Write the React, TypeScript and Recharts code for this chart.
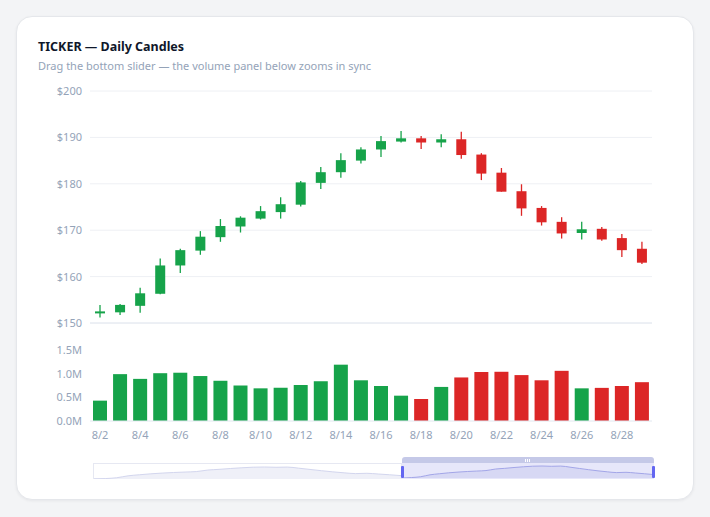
import React from "react";
import {
  ComposedChart,
  Bar,
  XAxis,
  YAxis,
  CartesianGrid,
  Cell,
  AreaChart,
  Area,
} from "recharts";

const days = [
  "8/2", "8/3", "8/4", "8/5", "8/6", "8/7", "8/8", "8/9", "8/10", "8/11",
  "8/12", "8/13", "8/14", "8/15", "8/16", "8/17", "8/18", "8/19", "8/20", "8/21",
  "8/22", "8/23", "8/24", "8/25", "8/26", "8/27", "8/28", "8/29",
];
const opens = [
  152.3, 152.3, 153.7, 156.3, 162.4, 165.6, 168.5, 170.8, 172.5, 173.9,
  175.5, 180.2, 182.5, 185.0, 187.4, 189.1, 189.8, 188.9, 189.6, 186.3,
  182.4, 178.4, 174.8, 171.8, 169.4, 170.3, 168.3, 166.0,
];
const highs = [
  153.9, 154.1, 157.6, 163.9, 166.0, 169.8, 172.4, 173.0, 175.2, 177.1,
  180.6, 183.6, 186.6, 187.9, 190.3, 191.4, 190.3, 190.7, 191.2, 186.6,
  183.4, 179.9, 175.2, 172.8, 171.8, 170.7, 169.2, 167.5,
];
const lows = [
  151.2, 151.7, 152.2, 156.2, 160.8, 164.7, 167.5, 169.5, 172.3, 172.5,
  175.1, 178.9, 181.3, 184.4, 185.8, 188.9, 187.5, 187.9, 185.4, 180.8,
  178.3, 173.1, 171.0, 168.2, 168.0, 167.7, 164.2, 162.7,
];
const closes = [
  152.5, 153.9, 156.4, 162.4, 165.7, 168.6, 170.9, 172.7, 174.1, 175.6,
  180.3, 182.5, 185.1, 187.4, 189.2, 189.8, 188.9, 189.6, 186.2, 182.2,
  178.3, 174.7, 171.7, 169.3, 170.2, 168.0, 165.7, 163.0,
];
const volumes = [
  430000, 990000, 890000, 1010000, 1020000, 950000, 850000, 750000, 690000, 700000,
  760000, 840000, 1190000, 860000, 740000, 535000, 465000, 720000, 920000, 1035000,
  1040000, 970000, 860000, 1060000, 690000, 700000, 740000, 820000,
];

const priceTicks = [150, 160, 170, 180, 190, 200];
const volumeTicks = [0, 500000, 1000000, 1500000];

const GREEN = "#16a34a";
const RED = "#dc2626";
const MUTED = "#94a3b8";
const FONT = "'Noto Sans', 'Open Sans', sans-serif";

const rows = days.map((day, i) => ({
  day,
  open: opens[i],
  high: highs[i],
  low: lows[i],
  close: closes[i],
  range: [lows[i], highs[i]],
  volume: volumes[i],
  up: closes[i] >= opens[i],
}));

// candle drawn inside the bar box that spans low..high
function Candle(props: any) {
  const { x, y, width, height, payload } = props;
  if (x == null || y == null) return null;
  const top = Math.min(y, y + height);
  const h = Math.abs(height);
  const { open, close, high, low, up } = payload;
  const color = up ? GREEN : RED;
  const k = h / (high - low);
  const bodyTop = top + (high - Math.max(open, close)) * k;
  const bodyH = Math.max(Math.abs(open - close) * k, 2);
  const cx = x + width / 2;
  return (
    <g>
      <line x1={cx} x2={cx} y1={top} y2={top + h} stroke={color} strokeWidth={1.3} />
      <rect x={x} y={bodyTop} width={width} height={bodyH} fill={color} />
    </g>
  );
}

const tickStyle = { fill: MUTED, fontSize: 11, fontFamily: FONT };

function MiniArea({ width, stroke, fill }: { width: number; stroke: string; fill: string }) {
  return (
    <AreaChart width={width} height={15} data={rows} margin={{ top: 3, right: 0, bottom: 0, left: 0 }}>
      <YAxis hide domain={["dataMin", "dataMax"]} />
      <XAxis dataKey="day" hide />
      <Area
        type="monotone"
        dataKey="close"
        stroke={stroke}
        strokeWidth={1}
        fill={fill}
        fillOpacity={1}
        isAnimationActive={false}
        dot={false}
      />
    </AreaChart>
  );
}

function SyncSlider() {
  return (
    <>
      <div
        style={{
          position: "absolute",
          left: 93,
          top: 463,
          width: 309,
          height: 16,
          boxSizing: "border-box",
          border: "1px solid #e6e8f2",
          background: "#fff",
        }}
      >
        <MiniArea width={307} stroke="#d3d6ee" fill="#eff0f8" />
      </div>
      <div
        style={{
          position: "absolute",
          left: 402,
          top: 463,
          width: 252,
          height: 16,
          background: "#e7e7fa",
        }}
      >
        <MiniArea width={252} stroke="#a3a6e8" fill="#d7d8f4" />
      </div>
      <div
        style={{
          position: "absolute",
          left: 402,
          top: 457,
          width: 252,
          height: 6,
          background: "#c5c9e8",
          borderRadius: "3px 3px 0 0",
        }}
      >
        <div style={{ position: "absolute", left: 123, top: 2, width: 1, height: 3, background: "#fff" }} />
        <div style={{ position: "absolute", left: 125, top: 2, width: 1, height: 3, background: "#fff" }} />
        <div style={{ position: "absolute", left: 127, top: 2, width: 1, height: 3, background: "#fff" }} />
      </div>
      <div style={{ position: "absolute", left: 401, top: 466, width: 3, height: 12, borderRadius: 1, background: "#6366f1" }} />
      <div style={{ position: "absolute", left: 652, top: 466, width: 3, height: 12, borderRadius: 1, background: "#6366f1" }} />
    </>
  );
}

export default function App() {
  return (
    <div
      style={{
        position: "absolute",
        left: 0,
        top: 0,
        width: 710,
        height: 517,
        background: "#f3f4f6",
        fontFamily: FONT,
      }}
    >
      <div
        style={{
          position: "absolute",
          left: 16,
          top: 16,
          width: 678,
          height: 484,
          boxSizing: "border-box",
          background: "#fff",
          border: "1px solid #e5e7eb",
          borderRadius: 16,
          boxShadow: "0 1px 3px rgba(15,23,42,0.06)",
        }}
      />
      <div
        style={{
          position: "absolute",
          left: 38,
          top: 38,
          fontSize: 12.5,
          fontWeight: 700,
          color: "#0f172a",
          whiteSpace: "nowrap",
        }}
      >
        TICKER — Daily Candles
      </div>
      <div
        style={{
          position: "absolute",
          left: 38,
          top: 58,
          fontSize: 11,
          color: MUTED,
          whiteSpace: "nowrap",
        }}
      >
        Drag the bottom slider — the volume panel below zooms in sync
      </div>

      <div style={{ position: "absolute", left: 30, top: 81 }}>
        <ComposedChart width={640} height={248} data={rows} margin={{ top: 10, right: 18, bottom: 5, left: 0 }}>
          <CartesianGrid vertical={false} stroke="#eef0f4" />
          <XAxis dataKey="day" tick={false} tickLine={false} axisLine={{ stroke: "#e2e8f0" }} height={1} />
          <YAxis
            width={60}
            domain={[150, 200]}
            ticks={priceTicks}
            tickFormatter={(v: number) => `$${v}`}
            tickLine={false}
            axisLine={false}
            tick={tickStyle}
          />
          <Bar dataKey="range" barSize={10} shape={Candle} isAnimationActive={false} />
        </ComposedChart>
      </div>

      <div style={{ position: "absolute", left: 30, top: 340 }}>
        <ComposedChart width={640} height={106} data={rows} margin={{ top: 10, right: 18, bottom: 0, left: 0 }}>
          <XAxis
            dataKey="day"
            interval={1}
            tickLine={false}
            tickMargin={4}
            axisLine={{ stroke: "#e2e8f0" }}
            tick={tickStyle}
            height={25}
          />
          <YAxis
            width={60}
            domain={[0, 1500000]}
            ticks={volumeTicks}
            tickFormatter={(v: number) => `${(v / 1000000).toFixed(1)}M`}
            tickLine={false}
            axisLine={false}
            tick={tickStyle}
          />
          <Bar dataKey="volume" barSize={14} isAnimationActive={false}>
            {rows.map((r) => (
              <Cell key={r.day} fill={r.up ? GREEN : RED} />
            ))}
          </Bar>
        </ComposedChart>
      </div>

      <SyncSlider />
    </div>
  );
}
